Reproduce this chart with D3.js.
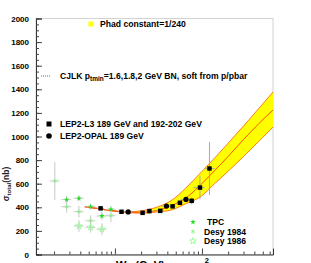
<!DOCTYPE html>
<html>
<head>
<meta charset="utf-8">
<script src="https://cdn.jsdelivr.net/npm/d3@7"></script>
<style>
  body { margin: 0; background: #fff; }
  svg { display: block; font-family: "Liberation Sans", Arial, sans-serif; font-weight: bold; }
</style>
</head>
<body>
<svg id="chart" width="311" height="263"></svg>
<script>
// CJLK curves, ptmin = 1.6 / 1.8 / 2 GeV (band edges + middle)
const curveW    = [4.5, 6, 8, 10, 14, 20, 30, 45, 65, 95, 140, 200, 300, 450, 655]
const curveHigh = [407, 394, 380, 370, 362, 370, 400, 460, 562, 687, 818, 943, 1088, 1238, 1377]
const curveMid  = [405, 392, 378, 368, 358, 357, 372, 415, 478, 585, 712, 831, 974, 1109, 1225]
const curveLow  = [403, 390, 376, 366, 355, 350, 360, 378, 430, 486, 601, 706, 830, 959, 1080]

// LEP2 L3
const l3W     = [6.85, 11.9, 20.8, 24.9, 33.2, 46.0, 55.8, 76.2, 94.9, 122]
const l3Sigma = [391, 362, 353, 368, 370, 408, 438, 455, 567, 729]
const l3Err   = [15, 15, 15, 20, 15, 15, 20, 30, 100, 225]
const l3WLo   = [6.2, 10.8, 19, 22.5, 30, 42, 51, 70, 80, 106]
const l3WHi   = [7.5, 13, 22.8, 27.5, 36.5, 50, 61, 83, 108, 140]

// LEP2 OPAL
const opalW     = [14.2, 39.1, 65.5]
const opalSigma = [361, 410, 467]
const opalErr   = [15, 15, 20]

// TPC
const tpcW     = [2.79, 3.86, 5.26, 7.09, 9.0]
const tpcSigma = [465, 476, 405, 326, 383]
const tpcErr   = [30, 25, 25, 35, 25]

// Desy 1984
const d84W     = [2.04, 2.79, 3.86, 5.26, 9.0]
const d84Sigma = [623, 405, 363, 286, 329]
const d84Err   = [160, 50, 50, 45, 55]

// Desy 1986
const d86W     = [3.86, 5.26, 7.09]
const d86Sigma = [242, 231, 214]
const d86Err   = [50, 45, 50]

const yTicks = d3.range(0, 2001, 200)
const yMinor = d3.range(0, 2001, 50)
const xMajor = [10, 100]
const xMinor = [2, 3, 4, 5, 6, 7, 8, 9, 20, 30, 40, 50, 60, 70, 80, 90, 200, 300, 400, 500, 600]

const svg = d3.select("#chart")
const x = d3.scaleLog().domain([1.24, 655]).range([36, 273])
const y = d3.scaleLinear().domain([0, 2000]).range([254.5, 18.5])

// frame (top / right light)
svg.append("rect")
    .attr("x", 36).attr("y", 18.5)
    .attr("width", 237).attr("height", 236)
    .attr("fill", "none").attr("stroke", "#d2d2d2")

// band
const band = curveW.map((w, i) => ({ w, hi: curveHigh[i], mid: curveMid[i], lo: curveLow[i] }))
svg.append("path")
    .datum(band)
    .attr("fill", "#ffff00")
    .attr("d", d3.area().curve(d3.curveMonotoneX)
        .x(d => x(d.w)).y0(d => y(d.lo)).y1(d => y(d.hi)))

for (const key of ["hi", "mid", "lo"]) {
    svg.append("path")
        .datum(band)
        .attr("fill", "none")
        .attr("stroke", key == "mid" ? "#ff2000" : "#ff5a00")
        .attr("stroke-width", 0.8)
        .attr("d", d3.line().curve(d3.curveMonotoneX).x(d => x(d.w)).y(d => y(d[key])))
}

// error bars
function errors(ws, sig, err, lo, hi, color) {
    const g = svg.append("g").attr("stroke", color).attr("stroke-width", 1)
    ws.forEach((w, i) => {
        g.append("line").attr("x1", x(w)).attr("x2", x(w))
            .attr("y1", y(sig[i] - err[i])).attr("y2", y(sig[i] + err[i]))
        g.append("line").attr("x1", x(lo ? lo[i] : w * 0.87)).attr("x2", x(hi ? hi[i] : w * 1.13))
            .attr("y1", y(sig[i])).attr("y2", y(sig[i]))
    })
}
errors(d84W, d84Sigma, d84Err, null, null, "#c8c8c8")
errors(d86W, d86Sigma, d86Err, null, null, "#c8c8c8")
errors(tpcW, tpcSigma, tpcErr, null, null, "#c8c8c8")
errors(l3W, l3Sigma, l3Err, l3WLo, l3WHi, "#aaaaaa")
errors(opalW, opalSigma, opalErr, null, null, "#aaaaaa")

function markers(ws, sig, type, size, fill, stroke) {
    svg.append("g").selectAll("path")
        .data(ws.map((w, i) => [w, sig[i]]))
        .join("path")
        .attr("transform", d => `translate(${x(d[0])},${y(d[1])})`)
        .attr("d", d3.symbol(type, size))
        .attr("fill", fill)
        .attr("stroke", stroke)
        .attr("stroke-width", 0.8)
}
markers(d86W, d86Sigma, d3.symbolStar, 14, "none", "#8cff8c")
markers(d84W, d84Sigma, d3.symbolAsterisk, 12, "none", "#80f080")
markers(tpcW, tpcSigma, d3.symbolStar, 10, "#22dd22", "none")
markers(l3W, l3Sigma, d3.symbolSquare, 20, "#000", "none")
markers(opalW, opalSigma, d3.symbolCircle, 22, "#000", "none")

// axes
const yAxis = svg.append("g").attr("transform", "translate(36,0)")
    .call(d3.axisLeft(y).tickValues(yTicks).tickSize(-6).tickPadding(7).tickFormat(d3.format("d")))
yAxis.select(".domain").attr("stroke", "#333")
yAxis.selectAll("text").attr("font-size", 8).attr("font-weight", "bold").attr("font-family", "Liberation Sans, Arial")
svg.append("g").attr("transform", "translate(36,0)")
    .call(d3.axisLeft(y).tickValues(yMinor).tickSize(-3).tickFormat(""))
    .select(".domain").remove()

const xAxis = svg.append("g").attr("transform", "translate(0,254.5)")
    .call(d3.axisBottom(x).tickValues(xMajor).tickSize(-6).tickFormat(""))
xAxis.select(".domain").attr("stroke", "#333")
svg.append("g").attr("transform", "translate(0,254.5)")
    .call(d3.axisBottom(x).tickValues(xMinor).tickSize(-3).tickFormat(""))
    .select(".domain").remove()
svg.selectAll(".tick line").attr("stroke", "#444")

// log label 10^2: only the exponent shows above the bottom edge
const lab = svg.append("text").attr("x", x(xMajor[1])).attr("y", 276)
    .attr("text-anchor", "middle").attr("font-size", 9).text("10")
lab.append("tspan").attr("dy", -13.5).attr("font-size", 7.5).text("2")

// axis titles (cut by the bottom edge, as in the original)
const xt = svg.append("text").attr("x", 116).attr("y", 268.5).attr("font-size", 11)
xt.append("tspan").text("W")
xt.append("tspan").attr("font-size", 8).attr("dy", 2).text("γγ")
xt.append("tspan").attr("dy", -2).text("(GeV)")

const yt = svg.append("text").attr("transform", "translate(9,184) rotate(-90)")
    .attr("text-anchor", "middle").attr("font-size", 8.5).attr("fill", "#222")
yt.append("tspan").text("σ")
yt.append("tspan").attr("font-size", 6).attr("dy", 2).text("total")
yt.append("tspan").attr("dy", -2).text("(nb)")

// legend
const lg = svg.append("g").attr("font-size", 8.6)
lg.append("rect").attr("x", 88.5).attr("y", 21.5).attr("width", 5).attr("height", 5).attr("fill", "#ffff00")
lg.append("text").attr("x", 100).attr("y", 27.3).text("Phad constant=1/240")

lg.append("line").attr("x1", 41).attr("x2", 50).attr("y1", 76).attr("y2", 76)
    .attr("stroke", "#ff3030").attr("stroke-width", 1.2).attr("stroke-dasharray", "1,1")
const cj = lg.append("text").attr("x", 60).attr("y", 79.3)
cj.append("tspan").text("CJLK p")
cj.append("tspan").attr("font-size", 6.5).attr("dy", 2).text("tmin")
cj.append("tspan").attr("dy", -2).text("=1.6,1.8,2 GeV BN, soft from p/pbar")

lg.append("rect").attr("x", 46.5).attr("y", 121.5).attr("width", 5).attr("height", 5).attr("fill", "#000")
lg.append("text").attr("x", 60).attr("y", 127.3).text("LEP2-L3 189 GeV and 192-202 GeV")
lg.append("circle").attr("cx", 49).attr("cy", 136).attr("r", 2.8).attr("fill", "#000")
lg.append("text").attr("x", 60).attr("y", 139.3).text("LEP2-OPAL 189 GeV")

lg.append("path").attr("transform", "translate(193,222)").attr("d", d3.symbol(d3.symbolStar, 10)).attr("fill", "#22dd22")
lg.append("text").attr("x", 207).attr("y", 225.3).text("TPC")
lg.append("path").attr("transform", "translate(193,231.5)").attr("d", d3.symbol(d3.symbolAsterisk, 12))
    .attr("fill", "none").attr("stroke", "#80f080").attr("stroke-width", 0.8)
lg.append("text").attr("x", 204).attr("y", 234.8).text("Desy 1984")
lg.append("path").attr("transform", "translate(193,241)").attr("d", d3.symbol(d3.symbolStar, 14))
    .attr("fill", "none").attr("stroke", "#8cff8c").attr("stroke-width", 0.8)
lg.append("text").attr("x", 204).attr("y", 244.3).text("Desy 1986")
</script>
</body>
</html>
